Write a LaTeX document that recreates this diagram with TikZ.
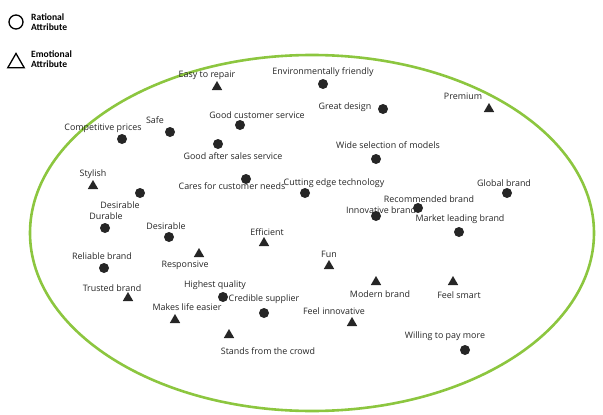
\documentclass[tikz,border=0pt]{standalone}
\usepackage{fontspec}
\setmainfont{Carlito}
\newfontfamily\lblfont{Open Sans}
\usetikzlibrary{shapes.geometric}
\definecolor{dotc}{HTML}{262626}
\definecolor{ellg}{HTML}{8CC63F}
\tikzset{
 rat/.style={circle,fill=dotc,inner sep=0pt,minimum size=10pt},
 emo/.style={regular polygon,regular polygon sides=3,fill=dotc,inner sep=0pt,minimum size=12pt},
 lbl/.style={font=\lblfont\fontsize{8.9}{9}\selectfont,text=dotc,inner sep=0pt},
 leg/.style={font=\bfseries\fontsize{9.6}{10}\selectfont,align=left,inner sep=0pt,anchor=west}
}
\begin{document}
\begin{tikzpicture}[x=1pt,y=-1pt]
\useasboundingbox (0,0) rectangle (603,415);
\node[draw=ellg,line width=2.6pt,ellipse,minimum width=564pt,minimum height=356pt,inner sep=0pt] (ell) at (312,233) {};
% legend
\node[circle,draw,line width=1.3pt,minimum size=14pt,inner sep=0pt] (lc) at (16,22) {};
\node[leg] (lct) at (31,22) {Rational\\Attribute};
\node[regular polygon,regular polygon sides=3,draw,line width=1.3pt,minimum size=19pt,inner sep=0pt] (lt) at (16,63) {};
\node[leg] (ltt) at (31,59) {Emotional\\Attribute};
% items
\foreach \s/\lx/\ly/\mx/\my/\t [count=\i] in {
 emo/207/75/217/87/Easy to repair,
 rat/323/72/323/84/Environmentally friendly,
 rat/345/107/383/109/Great design,
 emo/463/96/489/109/Premium,
 rat/257/115/240/125/Good customer service,
 rat/155/120/170/132/Safe,
 rat/103/128/122/139/Competitive prices,
 rat/233/156/218/144/Good after sales service,
 rat/388/145/376/159/Wide selection of models,
 emo/93/174/93/186/Stylish,
 rat/232/186/246/179/Cares for customer needs,
 rat/334/183/305/193/Cutting edge technology,
 rat/504/183/507/193/Global brand,
 rat/120/205/140/193/Desirable,
 rat/429/199/418/208/Recommended brand,
 rat/381/210/376/216/Innovative brand,
 rat/106/216/105/228/Durable,
 rat/460/219/459/232/Market leading brand,
 rat/166/226/169/237/Desirable,
 emo/267/232/264/243/Efficient,
 rat/102/256/104/268/Reliable brand,
 emo/185/265/199/254/Responsive,
 emo/329/254/329/266/Fun,
 rat/215/285/223/297/Highest quality,
 emo/112/288/128/298/Trusted brand,
 emo/380/294/376/282/Modern brand,
 emo/459/295/453/282/Feel smart,
 rat/264/299/264/313/Credible supplier,
 emo/187/307/175/320/Makes life easier,
 emo/334/311/352/323/Feel innovative,
 emo/268/351/229/335/Stands from the crowd,
 rat/445/336/465/350/Willing to pay more}
 {\node[\s] (m\i) at (\mx,\my) {}; \node[lbl] (l\i) at (\lx,\ly) {\t};}
\end{tikzpicture}
\end{document}
